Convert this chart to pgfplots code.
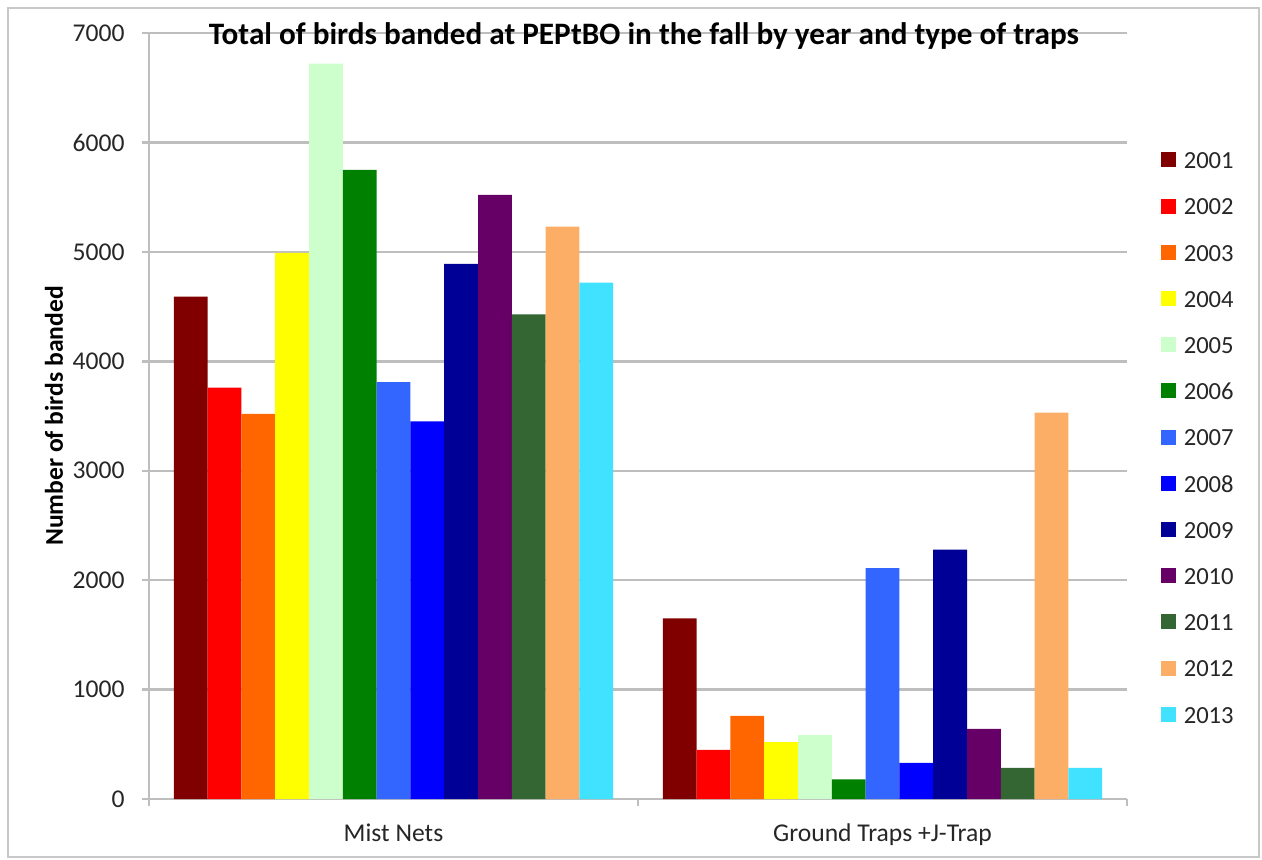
\documentclass[border=0pt]{standalone}
\usepackage{pgfplots}
\pgfplotsset{compat=1.18}
\usepackage{fontspec}
\setmainfont{Carlito}

\definecolor{c01}{HTML}{800000}
\definecolor{c02}{HTML}{FF0000}
\definecolor{c03}{HTML}{FF6600}
\definecolor{c04}{HTML}{FFFF00}
\definecolor{c05}{HTML}{CCFFCC}
\definecolor{c06}{HTML}{008000}
\definecolor{c07}{HTML}{3366FF}
\definecolor{c08}{HTML}{0000FF}
\definecolor{c09}{HTML}{000096}
\definecolor{c10}{HTML}{660066}
\definecolor{c11}{HTML}{336633}
\definecolor{c12}{HTML}{FCAE66}
\definecolor{c13}{HTML}{40E2FF}
\definecolor{gridgray}{HTML}{BEBEBE}
\definecolor{framegray}{HTML}{C8C8C8}

\begin{document}
\begin{tikzpicture}
    % page = 1262 x 859 px, 1 px = 0.5pt
    \path[use as bounding box] (0pt,0pt) rectangle (631pt,-429.5pt);
    \draw[framegray, line width=1pt] (4pt,-4pt) rectangle (629.5pt,-428.5pt);
    \begin{axis}
        [
            at={(74.5pt,-399.5pt)},
            anchor=south west,
            scale only axis,
            width=489pt,
            height=383pt,
            ybar=0pt,
            bar width=16.9pt,
            xmin=-0.5, xmax=1.5,
            ymin=0, ymax=7000,
            ytick={0,1000,...,7000},
            xtick={-0.5,0.5,1.5},
            xticklabels={},
            extra x ticks={0,1},
            extra x tick labels={Mist Nets, Ground Traps +J-Trap},
            extra x tick style={
                major tick length=0pt,
                xticklabel style={anchor=base, yshift=-21pt}
            },
            axis lines*=left,
            axis line style={gridgray, line width=1.2pt},
            tick style={gridgray, line width=1.2pt},
            tick align=outside,
            major tick length=3.5pt,
            ymajorgrids,
            major grid style={gridgray, line width=1.2pt},
            /pgf/number format/assume math mode=true,
            /pgf/number format/1000 sep={},
            ticklabel style={font=\fontsize{12.8}{15}\selectfont, text=black!85},
            yticklabel style={anchor=east, inner sep=0pt, xshift=-8.5pt},
            ylabel={Number of birds banded},
            ylabel style={at={(axis description cs:-0.0971,0.5)}, anchor=center,
                font=\fontsize{12.8}{15}\selectfont\bfseries},
            title={Total of birds banded at PEPtBO in the fall by year and type of traps},
            title style={at={(axis description cs:0.506,0.969)}, anchor=base,
                font=\fontsize{15.6}{18}\selectfont\bfseries},
            legend cell align=left,
            legend style={
                at={(axis description cs:1.0286,0.8500)},
                anchor=north west,
                draw=none, fill=none,
                row sep=14.9pt,
                column sep=3.7pt,
                nodes={inner sep=0pt, text height=8pt, text depth=0pt,
                    font=\fontsize{12.3}{14}\selectfont, text=black!85}
            },
            every axis plot/.append style={
                draw=none,
                legend image code/.code={\fill[##1] (0pt,-3.3pt) rectangle (7.5pt,4.2pt);}
            },
        ]
        \addplot[fill=c01] coordinates {(0,4590) (1,1650)};
        \addplot[fill=c02] coordinates {(0,3760) (1,450)};
        \addplot[fill=c03] coordinates {(0,3520) (1,760)};
        \addplot[fill=c04] coordinates {(0,4990) (1,520)};
        \addplot[fill=c05] coordinates {(0,6720) (1,585)};
        \addplot[fill=c06] coordinates {(0,5750) (1,180)};
        \addplot[fill=c07] coordinates {(0,3810) (1,2110)};
        \addplot[fill=c08] coordinates {(0,3450) (1,330)};
        \addplot[fill=c09] coordinates {(0,4890) (1,2280)};
        \addplot[fill=c10] coordinates {(0,5520) (1,640)};
        \addplot[fill=c11] coordinates {(0,4430) (1,285)};
        \addplot[fill=c12] coordinates {(0,5230) (1,3530)};
        \addplot[fill=c13] coordinates {(0,4720) (1,285)};
        \legend{2001,2002,2003,2004,2005,2006,2007,2008,2009,2010,2011,2012,2013}
    \end{axis}
\end{tikzpicture}
\end{document}
